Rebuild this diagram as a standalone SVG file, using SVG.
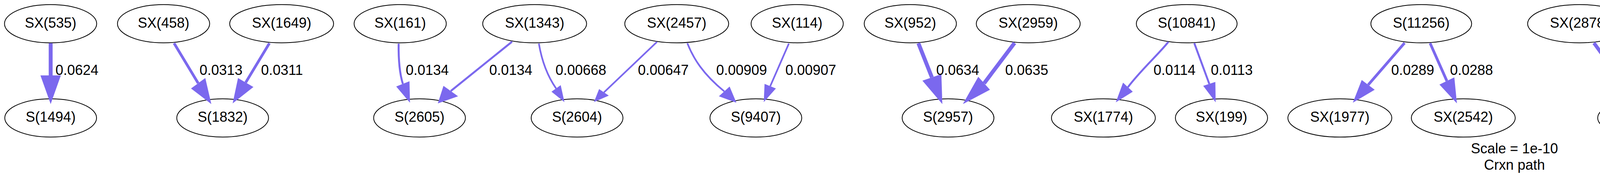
<svg xmlns="http://www.w3.org/2000/svg" width="7752" height="469" viewBox="0 0 7752 469">
<style>
.node ellipse{fill:none;stroke:#000;stroke-width:2}
text{font-family:"Liberation Sans",Arial,Helvetica,sans-serif;font-size:36px;fill:#000}
.nl{text-anchor:middle}
.edges path{fill:none;stroke:#7b68ee;stroke-linecap:butt}
.edges polygon{fill:#7b68ee;stroke:none}
.w4{stroke-width:4.3}.w5{stroke-width:5}.w6{stroke-width:6.5}.w7{stroke-width:7}.w75{stroke-width:7.5}.w9{stroke-width:9}.w10{stroke-width:10}.w12{stroke-width:11.5}
</style>
<rect width="7752" height="469" fill="#fff"/>
<g id="nodes">
<g id="n_SX535" class="node"><ellipse cx="129.5" cy="60.7" rx="118" ry="49"/><text class="nl" x="129.5" y="70.7">SX(535)</text></g>
<g id="n_SX458" class="node"><ellipse cx="418.7" cy="60.7" rx="118" ry="49"/><text class="nl" x="418.7" y="70.7">SX(458)</text></g>
<g id="n_SX1649" class="node"><ellipse cx="721" cy="60.7" rx="133" ry="49"/><text class="nl" x="721" y="70.7">SX(1649)</text></g>
<g id="n_SX161" class="node"><ellipse cx="1024.5" cy="60.7" rx="118" ry="49"/><text class="nl" x="1024.5" y="70.7">SX(161)</text></g>
<g id="n_SX1343" class="node"><ellipse cx="1368.7" cy="60.7" rx="133" ry="49"/><text class="nl" x="1368.7" y="70.7">SX(1343)</text></g>
<g id="n_SX2457" class="node"><ellipse cx="1732.4" cy="60.7" rx="133" ry="49"/><text class="nl" x="1732.4" y="70.7">SX(2457)</text></g>
<g id="n_SX114" class="node"><ellipse cx="2040.8" cy="60.7" rx="118" ry="49"/><text class="nl" x="2040.8" y="70.7">SX(114)</text></g>
<g id="n_SX952" class="node"><ellipse cx="2330.4" cy="60.7" rx="118" ry="49"/><text class="nl" x="2330.4" y="70.7">SX(952)</text></g>
<g id="n_SX2959" class="node"><ellipse cx="2632.3" cy="60.7" rx="133" ry="49"/><text class="nl" x="2632.3" y="70.7">SX(2959)</text></g>
<g id="n_S10841" class="node"><ellipse cx="3038" cy="60.7" rx="129" ry="49"/><text class="nl" x="3038" y="70.7">S(10841)</text></g>
<g id="n_S11256" class="node"><ellipse cx="3638.4" cy="60.7" rx="129" ry="49"/><text class="nl" x="3638.4" y="70.7">S(11256)</text></g>
<g id="n_SX2878" class="node"><ellipse cx="4043.7" cy="60.7" rx="133" ry="49"/><text class="nl" x="4043.7" y="70.7">SX(2878)</text></g>
<g id="n_SX13036" class="node"><ellipse cx="4374" cy="60.7" rx="145.5" ry="49"/><text class="nl" x="4374" y="70.7">SX(13036)</text></g>
<g id="n_SX9538" class="node"><ellipse cx="4705.3" cy="60.7" rx="133" ry="49"/><text class="nl" x="4705.3" y="70.7">SX(9538)</text></g>
<g id="n_SX163" class="node"><ellipse cx="5007" cy="60.7" rx="118" ry="49"/><text class="nl" x="5007" y="70.7">SX(163)</text></g>
<g id="n_S16792" class="node"><ellipse cx="5308" cy="60.7" rx="129" ry="49"/><text class="nl" x="5308" y="70.7">S(16792)</text></g>
<g id="n_S18027" class="node"><ellipse cx="5802.3" cy="60.7" rx="129" ry="49"/><text class="nl" x="5802.3" y="70.7">S(18027)</text></g>
<g id="n_S19130" class="node"><ellipse cx="6458" cy="60.7" rx="129" ry="49"/><text class="nl" x="6458" y="70.7">S(19130)</text></g>
<g id="n_S20452" class="node"><ellipse cx="7099.6" cy="60.7" rx="129" ry="49"/><text class="nl" x="7099.6" y="70.7">S(20452)</text></g>
<g id="n_S24910" class="node"><ellipse cx="7593.6" cy="60.7" rx="129" ry="49"/><text class="nl" x="7593.6" y="70.7">S(24910)</text></g>

<g id="n_S1494" class="node"><ellipse cx="129.7" cy="302.3" rx="117.5" ry="49"/><text class="nl" x="129.7" y="312.3">S(1494)</text></g>
<g id="n_S1832" class="node"><ellipse cx="570" cy="302.3" rx="117.5" ry="49"/><text class="nl" x="570" y="312.3">S(1832)</text></g>
<g id="n_S2605" class="node"><ellipse cx="1074" cy="302.3" rx="117.5" ry="49"/><text class="nl" x="1074" y="312.3">S(2605)</text></g>
<g id="n_S2604" class="node"><ellipse cx="1477.3" cy="302.3" rx="117.5" ry="49"/><text class="nl" x="1477.3" y="312.3">S(2604)</text></g>
<g id="n_S9407" class="node"><ellipse cx="1935" cy="302.3" rx="117.5" ry="49"/><text class="nl" x="1935" y="312.3">S(9407)</text></g>
<g id="n_S2957" class="node"><ellipse cx="2427" cy="302.3" rx="117.5" ry="49"/><text class="nl" x="2427" y="312.3">S(2957)</text></g>
<g id="n_SX1774" class="node"><ellipse cx="2824.7" cy="302.3" rx="133" ry="49"/><text class="nl" x="2824.7" y="312.3">SX(1774)</text></g>
<g id="n_SX199" class="node"><ellipse cx="3127" cy="302.3" rx="118" ry="49"/><text class="nl" x="3127" y="312.3">SX(199)</text></g>
<g id="n_SX1977" class="node"><ellipse cx="3430" cy="302.3" rx="133" ry="49"/><text class="nl" x="3430" y="312.3">SX(1977)</text></g>
<g id="n_SX2542" class="node"><ellipse cx="3746" cy="302.3" rx="133" ry="49"/><text class="nl" x="3746" y="312.3">SX(2542)</text></g>
<g id="n_S13035" class="node"><ellipse cx="4218.6" cy="302.3" rx="128.5" ry="49"/><text class="nl" x="4218.6" y="312.3">S(13035)</text></g>
<g id="n_S16434" class="node"><ellipse cx="4849.1" cy="302.3" rx="128.5" ry="49"/><text class="nl" x="4849.1" y="312.3">S(16434)</text></g>
<g id="n_SX4016" class="node"><ellipse cx="5307.1" cy="302.3" rx="133" ry="49"/><text class="nl" x="5307.1" y="312.3">SX(4016)</text></g>
<g id="n_SX11404" class="node"><ellipse cx="5638.4" cy="302.3" rx="145.5" ry="49"/><text class="nl" x="5638.4" y="312.3">SX(11404)</text></g>
<g id="n_SX3376" class="node"><ellipse cx="5968.9" cy="302.3" rx="133" ry="49"/><text class="nl" x="5968.9" y="312.3">SX(3376)</text></g>
<g id="n_SX18744" class="node"><ellipse cx="6299.7" cy="302.3" rx="145.5" ry="49"/><text class="nl" x="6299.7" y="312.3">SX(18744)</text></g>
<g id="n_SX379" class="node"><ellipse cx="6616.2" cy="302.3" rx="118" ry="49"/><text class="nl" x="6616.2" y="312.3">SX(379)</text></g>
<g id="n_SX19511" class="node"><ellipse cx="6932" cy="302.3" rx="145.5" ry="49"/><text class="nl" x="6932" y="312.3">SX(19511)</text></g>
<g id="n_SX1073" class="node"><ellipse cx="7263.5" cy="302.3" rx="133" ry="49"/><text class="nl" x="7263.5" y="312.3">SX(1073)</text></g>
<g id="n_SX11128" class="node"><ellipse cx="7593.6" cy="302.3" rx="145.5" ry="49"/><text class="nl" x="7593.6" y="312.3">SX(11128)</text></g>
</g>

<g id="connectors" class="edges">
<g id="e1"><path class="w10" d="M129.7,110.7 L129.7,196"/><polygon points="103.5,193.3 155.8,193.3 129.7,266.7"/><text x="142" y="191.7">0.0624</text></g>
<g id="e2"><path class="w7" d="M445.6,110.7 L507.3,213.3"/><polygon points="489,226.7 525.6,200 541,266.7"/><text x="510.7" y="191.7">0.0313</text></g>
<g id="e3"><path class="w7" d="M689.7,110.7 L629,211.5"/><polygon points="609.3,200 648.7,223 595.6,265"/><text x="668.2" y="191.7">0.0311</text></g>
<g id="e4"><path class="w5" d="M1020.5,111.7 C1020,150 1022,185 1031.3,215"/><polygon points="1014.3,221.7 1048.3,208.3 1049.5,263.3"/><text x="1038.7" y="191.7">0.0134</text></g>
<g id="e5"><path class="w5" d="M1311,106.7 L1154,233.3"/><polygon points="1135.3,220 1172.6,246.7 1120.8,265"/><text x="1252.6" y="191.7">0.0134</text></g>
<g id="e6"><path class="w4" d="M1379.5,111.7 C1386,150 1398,190 1423.6,226.7"/><polygon points="1411.8,235 1435.4,218.3 1445,261.7"/><text x="1422" y="191.7">0.00668</text></g>
<g id="e7"><path class="w4" d="M1682,107.3 L1546.1,236.7"/><polygon points="1533.7,228.3 1558.5,245 1520.4,261.7"/><text x="1633" y="191.7">0.00647</text></g>
<g id="e8"><path class="w4" d="M1759.6,110.7 C1775,150 1800,190 1854.1,234.2"/><polygon points="1840.4,246.7 1867.8,221.7 1885.2,263.3"/><text x="1833.4" y="191.7">0.00909</text></g>
<g id="e9"><path class="w4" d="M2019.5,111.7 L1971.8,220.9"/><polygon points="1957.3,215 1986.3,226.7 1955.2,261.7"/><text x="2010.4" y="191.7">0.00907</text></g>
<g id="e10"><path class="w10" d="M2351,110.7 L2385.7,198.4"/><polygon points="2361.4,206.7 2409.9,190 2412.4,266.7"/><text x="2396.7" y="191.7">0.0634</text></g>
<g id="e11"><path class="w10" d="M2597.3,110 L2519.4,213.4"/><polygon points="2504.4,196.7 2534.3,230 2465,266.7"/><text x="2573.3" y="191.7">0.0635</text></g>
<g id="e12"><path class="w5" d="M2991,107.3 C2970,135 2920,180 2887.5,223.4"/><polygon points="2875,211.7 2899.9,235 2856.4,262.3"/><text x="2953" y="191.7">0.0114</text></g>
<g id="e13"><path class="w5" d="M3057.4,110.7 L3095.8,215"/><polygon points="3080.2,220 3111.3,210 3112.1,262.3"/><text x="3099.7" y="191.7">0.0113</text></g>
<g id="e14"><path class="w7" d="M3595.8,110 L3502.6,217.5"/><polygon points="3486,205 3519.2,230 3463.2,263.3"/><text x="3561.4" y="191.7">0.0289</text></g>
<g id="e15"><path class="w7" d="M3661,110.7 L3704,207.5"/><polygon points="3685,216.7 3723.1,198.3 3729.7,265"/><text x="3711.9" y="191.7">0.0288</text></g>
<g id="e16"><path class="w9" d="M4080.4,110 L4150.9,207.5"/><polygon points="4130.2,221.7 4171.6,193.3 4192.3,266.7"/><text x="4155.8" y="191.7">0.0536</text></g>
<g id="e17"><path class="w9" d="M4342.4,110 L4281.5,205.9"/><polygon points="4260.7,191.7 4302.2,220 4242,266.7"/><text x="4318.8" y="191.7">0.0537</text></g>
<g id="e18"><path class="w4" d="M4734.9,110 L4802.3,220.9"/><polygon points="4788.8,230 4815.7,211.7 4824,261.7"/><text x="4800" y="191.7">0.00908</text></g>
<g id="e19"><path class="w4" d="M4992.7,111.7 C4985,150 4965,190 4925.6,230"/><polygon points="4913.2,220 4938,240 4896.6,261.7"/><text x="4982.8" y="191.7">0.00908</text></g>
<g id="e20"><path class="w12" d="M5307.8,110.7 L5307.8,191"/><polygon points="5278.8,188.3 5336.8,188.3 5307.8,268.3"/><text x="5319" y="191.7">0.0953</text></g>
<g id="e21"><path class="w7" d="M5770,110 L5695.8,213.3"/><polygon points="5673.4,201.7 5718.1,225 5665,263.3"/><text x="5743.8" y="191.7">0.0287</text></g>
<g id="e22"><path class="w7" d="M5836.7,110.7 L5907.8,213.4"/><polygon points="5890.6,225 5925,201.7 5941.6,265"/><text x="5911.3" y="191.7">0.029</text></g>
<g id="e23"><path class="w7" d="M6425.7,110 L6366.2,212"/><polygon points="6354.8,200 6377.6,224 6325.8,264"/><text x="6400.4" y="191.7">0.0295</text></g>
<g id="e24"><path class="w7" d="M6493.3,110 L6560.5,210.5"/><polygon points="6541.8,221.7 6579.1,199.3 6592.7,265"/><text x="6564.6" y="191.7">0.0294</text></g>
<g id="e25"><path class="w6" d="M7065,110 L7001,216.7"/><polygon points="6990.7,206.7 7011.4,226.7 6960.4,263.3"/><text x="7039" y="191.7">0.0249</text></g>
<g id="e26"><path class="w6" d="M7133.1,110 L7203.9,213.9"/><polygon points="7186.2,226 7221.6,201.7 7236.2,263.3"/><text x="7206.7" y="191.7">0.0249</text></g>
<g id="e27"><path class="w75" d="M7594,110.7 L7594,201"/><polygon points="7570.4,199.3 7617.6,199.3 7594,266.7"/><text x="7605.4" y="191.7">0.0376</text></g>
</g>

<g id="graph-label">
<text class="nl" x="3877" y="393.3">Scale = 1e-10</text>
<text class="nl" x="3877" y="435">Crxn path</text>
</g>
</svg>
